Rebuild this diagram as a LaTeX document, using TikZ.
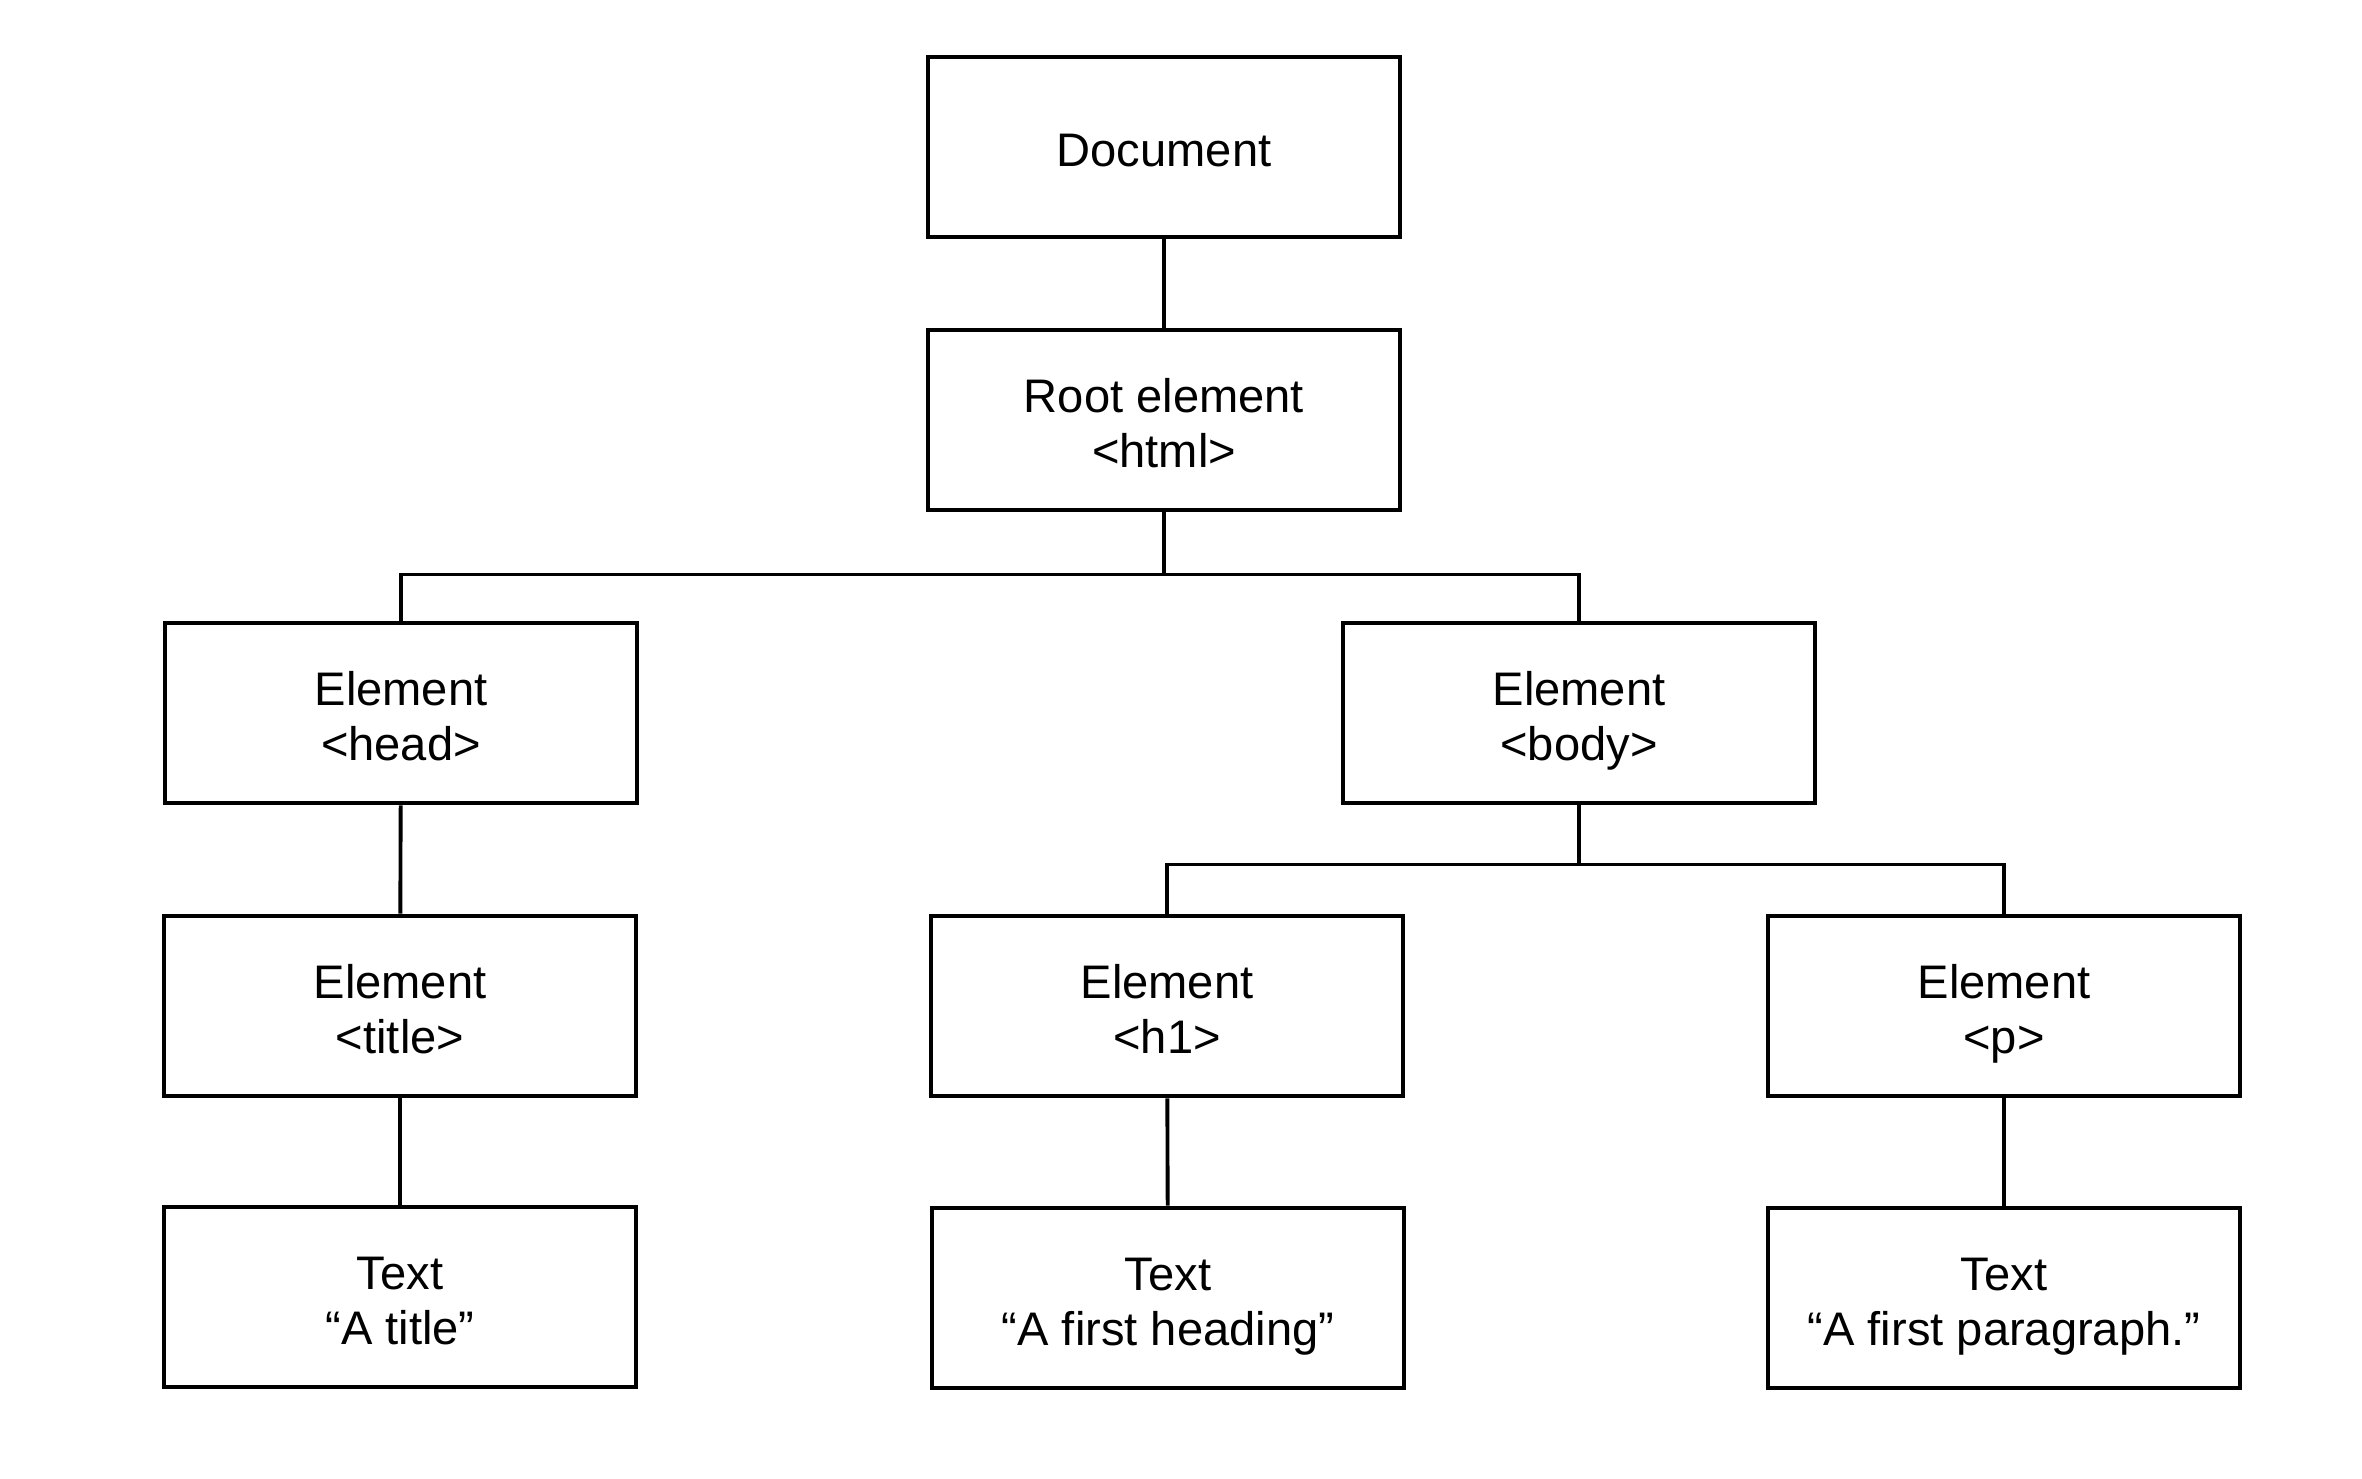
\documentclass[tikz,border=0pt]{standalone}
\usepackage{fontspec}
\setmainfont{Liberation Sans}
\usepackage{tikz}
\usetikzlibrary{arrows}
\newcommand{\domlabel}[1]{\rule{0pt}{14.5pt}#1\rule[-3.2pt]{0pt}{3.2pt}}

\begin{document}
\begin{tikzpicture}[scale=1,
  domnode/.style={draw,line width=1.4pt,minimum width=4.72cm,minimum height=1.8cm,align=center,inner sep=0pt,font=\fontsize{13.4}{15.8}\selectfont},
  link/.style={line width=1.1pt}]
\useasboundingbox (0,0) rectangle (23.62,-14.78);
\node[domnode] (doc) at (11.64,-1.47) {\domlabel{Document}};
\node[domnode] (root) at (11.64,-4.20) {\domlabel{Root element\\<html>}};
\node[domnode] (head) at (4.01,-7.13) {\domlabel{Element\\<head>}};
\node[domnode] (body) at (15.79,-7.13) {\domlabel{Element\\<body>}};
\node[domnode] (title) at (4.00,-10.06) {\domlabel{Element\\<title>}};
\node[domnode] (hone) at (11.67,-10.06) {\domlabel{Element\\<h1>}};
\node[domnode] (para) at (20.04,-10.06) {\domlabel{Element\\<p>}};
\node[domnode] (titletext) at (4.00,-12.97) {\domlabel{Text\\“A title”}};
\node[domnode] (honetext) at (11.68,-12.98) {\domlabel{Text\\“A first heading”}};
\node[domnode] (paratext) at (20.04,-12.98) {\domlabel{Text\\“A first paragraph.”}};
\draw[link] (doc) -- (root);
\draw[link] (root.south) -- ++(0,-0.62) -| (head.north);
\draw[link] (root.south) -- ++(0,-0.62) -| (body.north);
\draw[link] (head) -- (title);
\draw[link] (title) -- (titletext);
\draw[link] (body.south) -- ++(0,-0.59) -| (hone.north);
\draw[link] (body.south) -- ++(0,-0.59) -| (para.north);
\draw[link] (hone) -- (honetext);
\draw[link] (para) -- (paratext);
\end{tikzpicture}
\end{document}
